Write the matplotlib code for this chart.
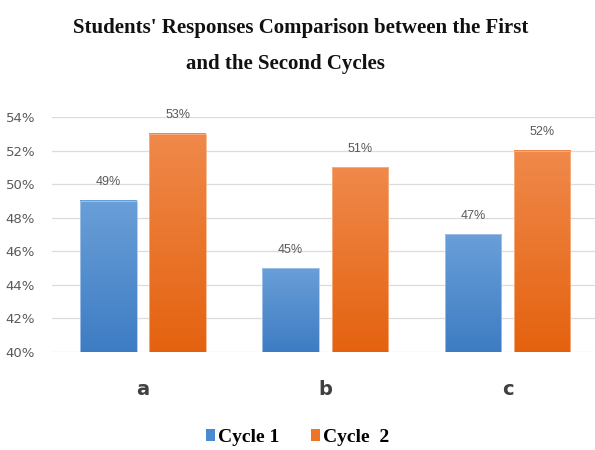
import matplotlib
matplotlib.use("Agg")
import matplotlib.pyplot as plt
import numpy as np
from matplotlib.colors import LinearSegmentedColormap
from matplotlib.patches import Patch

# Data
categories = ["a", "b", "c"]
cycle1 = [49, 45, 47]
cycle2 = [53, 51, 52]
series_names = ["Cycle 1", "Cycle  2"]

fig = plt.figure(figsize=(5.95, 4.5), dpi=100)
ax = fig.add_axes([0.087, 0.218, 0.913, 0.522])

x = np.arange(len(categories))
width = 0.31
offset = 0.19

blue_cmap = LinearSegmentedColormap.from_list("b", ["#3d7cc3", "#6a9fd8"])
orange_cmap = LinearSegmentedColormap.from_list("o", ["#e4620f", "#f0894b"])
grad = np.linspace(0, 1, 256).reshape(-1, 1)

def gradient_bars(xs, vals, cmap, edge):
    bars = ax.bar(xs, [v - 40 for v in vals], width, bottom=40,
                  color="none", edgecolor=edge, linewidth=0.6, zorder=3)
    for b in bars:
        x0, y0 = b.get_x(), b.get_y()
        w, h = b.get_width(), b.get_height()
        ax.imshow(grad, cmap=cmap, origin="lower", aspect="auto",
                  extent=[x0, x0 + w, y0, y0 + h], zorder=2)
    return bars

gradient_bars(x - offset, cycle1, blue_cmap, "#a8c6ea")
gradient_bars(x + offset, cycle2, orange_cmap, "#f5b48a")

# value labels
for xs, vals in [(x - offset, cycle1), (x + offset, cycle2)]:
    for xi, v in zip(xs, vals):
        ax.annotate(f"{v}%", (xi, v), xytext=(0, 9), textcoords="offset points",
                    ha="center", va="bottom", fontsize=9, color="#595959",
                    family="Liberation Sans", annotation_clip=False)

ax.set_xlim(-0.5, 2.48)
ax.set_ylim(40, 54)
ax.set_yticks(range(40, 55, 2))
ax.set_yticklabels([f"{t}%" for t in range(40, 55, 2)], fontsize=9.5, color="#595959")
ax.set_xticks(x)
ax.set_xticklabels(categories, fontsize=14, fontweight="bold", color="#404040")
ax.tick_params(axis="both", length=0)
ax.tick_params(axis="x", pad=20)
ax.tick_params(axis="y", pad=12)
ax.yaxis.grid(True, color="#dcdcdc", linewidth=0.9, zorder=0)
ax.set_axisbelow(True)
for s in ax.spines.values():
    s.set_visible(False)

fig.text(0.505, 0.937, "Students' Responses Comparison between the First",
         ha="center", va="center", fontsize=15, fontweight="bold",
         family="Liberation Serif", color="#111111")
fig.text(0.48, 0.858, "and the Second Cycles",
         ha="center", va="center", fontsize=15, fontweight="bold",
         family="Liberation Serif", color="#111111")

handles = [Patch(facecolor="#4a8ad0"), Patch(facecolor="#ec7528")]
fig.legend(handles, series_names, loc="center", bbox_to_anchor=(0.5, 0.028),
           ncol=2, frameon=False, handlelength=0.5, handleheight=0.5,
           handletextpad=0.15, columnspacing=1.6,
           prop={"family": "Liberation Serif", "weight": "bold", "size": 14})

fig.savefig("out.png", dpi=100)
